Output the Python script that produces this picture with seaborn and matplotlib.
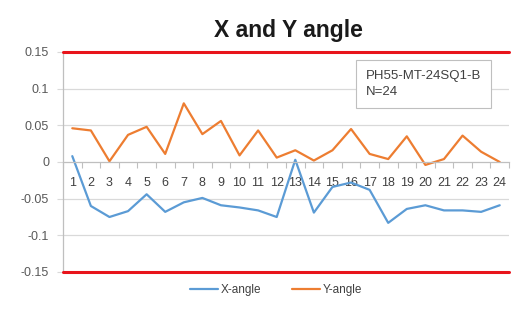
import numpy as np
import pandas as pd
import seaborn as sns
import matplotlib
matplotlib.use("Agg")
import matplotlib.pyplot as plt
from matplotlib.ticker import FixedLocator

# values
points = list(range(1, 25))
x_angle = [0.008, -0.060, -0.075, -0.067, -0.044, -0.068, -0.055, -0.049,
           -0.059, -0.062, -0.066, -0.075, 0.003, -0.069, -0.034, -0.028,
           -0.038, -0.083, -0.064, -0.059, -0.066, -0.066, -0.068, -0.059]
y_angle = [0.046, 0.043, 0.001, 0.037, 0.048, 0.011, 0.080, 0.038,
           0.056, 0.009, 0.043, 0.006, 0.016, 0.002, 0.016, 0.045,
           0.011, 0.004, 0.035, -0.004, 0.004, 0.036, 0.014, 0.000]
limit = 0.15
y_ticks = [-0.15, -0.1, -0.05, 0, 0.05, 0.1, 0.15]
y_labels = ["-0.15", "-0.1", "-0.05", "0", "0.05", "0.1", "0.15"]
note = "PH55-MT-24SQ1-B\nN=24"

df = pd.DataFrame({"Point": points * 2,
                   "Angle": x_angle + y_angle,
                   "Series": ["X-angle"] * 24 + ["Y-angle"] * 24})

sns.set_theme(style="white")
plt.rcParams["font.family"] = ["Liberation Sans", "DejaVu Sans"]

fig = plt.figure(figsize=(5.32, 3.12), dpi=100)
ax = fig.add_axes([63 / 532, 1 - 272 / 312, (509 - 63) / 532, (272 - 52) / 312])

sns.lineplot(data=df, x="Point", y="Angle", hue="Series",
             palette={"X-angle": "#5B9BD5", "Y-angle": "#ED7D31"},
             linewidth=1.6, ax=ax, legend=False)

ax.set_xlim(0.5, 24.5)
ax.set_ylim(-limit, limit)
ax.set_xlabel("")
ax.set_ylabel("")

# grid and limit lines
for v in [-0.1, -0.05, 0.05, 0.1]:
    ax.axhline(v, color="#D9D9D9", lw=0.9, zorder=0)
ax.axhline(limit, color="#E8141B", lw=2.2, zorder=3, clip_on=False)
ax.axhline(-limit, color="#E8141B", lw=2.2, zorder=3, clip_on=False)

for s in ["top", "right"]:
    ax.spines[s].set_visible(False)
ax.spines["left"].set_color("#BFBFBF")
ax.spines["left"].set_linewidth(0.9)
ax.spines["bottom"].set_position(("data", 0))
ax.spines["bottom"].set_color("#BFBFBF")
ax.spines["bottom"].set_linewidth(0.9)

ax.set_yticks(y_ticks)
ax.set_yticklabels(y_labels, fontsize=9, color="#595959")
ax.tick_params(axis="y", length=4, width=0.8, color="#D9D9D9", pad=6, left=True)

ax.set_xticks(points)
ax.set_xticklabels([str(p) for p in points], fontsize=9, color="#404040")
ax.xaxis.set_minor_locator(FixedLocator(np.arange(0.5, 25, 1)))
ax.tick_params(axis="x", which="major", length=0, pad=11)
ax.tick_params(axis="x", which="minor", length=4, width=0.8,
               color="#BFBFBF", direction="out", bottom=True)

ax.text(0.679, 0.918, note, transform=ax.transAxes, fontsize=9.5,
        color="#404040", va="top", ha="left", linespacing=1.45,
        bbox=dict(boxstyle="square,pad=0.75", fc="white", ec="#BFBFBF", lw=0.8))

fig.text(288 / 532, 1 - 30 / 312, "X and Y angle", ha="center", va="center",
         fontsize=16.5, fontweight="bold", color="#1A1A1A")

handles = [plt.Line2D([], [], color="#5B9BD5", lw=1.6),
           plt.Line2D([], [], color="#ED7D31", lw=1.6)]
fig.legend(handles, ["X-angle", "Y-angle"], loc="center", ncol=2,
           bbox_to_anchor=(276 / 532, 1 - 290 / 312), frameon=False,
           fontsize=8.5, handlelength=2.4, handletextpad=0.2,
           columnspacing=2.6, labelcolor="#404040")

fig.savefig("out.png", dpi=100, facecolor="white")
